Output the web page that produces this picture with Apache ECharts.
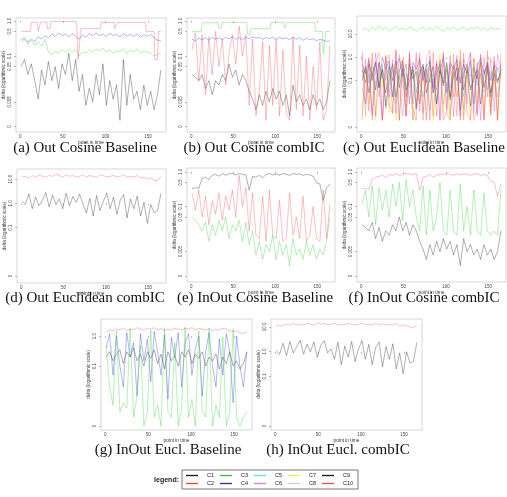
<!DOCTYPE html>
<html>
<head>
<meta charset="utf-8">
<title>delta over time</title>
<script src="https://cdn.jsdelivr.net/npm/echarts@6.0.0/dist/echarts.min.js"></script>
<style>
html, body { margin: 0; padding: 0; background: #fff; }
#chart { width: 507px; height: 497px; }
</style>
</head>
<body>
<div id="chart"></div>
<script>
// time points (every 4th of the 165 steps)
const T = [1,5,9,13,17,21,25,29,33,37,41,45,49,53,57,61,65,69,73,77,81,85,89,93,97,101,105,109,113,117,121,125,129,133,137,141,145,149,153,157,161,165];

const X_TICKS = [0, 50, 100, 150];
const COS_TICKS = [0.001, 0.005, 0.05, 0.1, 0.5, 1];
const COS_LABELS = ['0', '0.005', '0.05', '0.1', '0.5', '1.0'];
const EUC_TICKS = [0.001, 0.1, 1, 10];
const EUC_LABELS = ['0', '0.1', '1.0', '10.0'];

// (a) Out Cosine Baseline
const aBlack = [0.05,0.08,0.03,0.06,0.02,0.006,0.04,0.015,0.07,0.02,0.05,0.012,0.06,0.03,
  0.12,0.02,0.08,0.01,0.03,0.004,0.012,0.005,0.03,0.008,0.06,0.004,0.02,0.006,
  0.015,0.0015,0.08,0.004,0.03,0.006,0.01,0.003,0.015,0.004,0.01,0.003,0.008,0.04];
const aBlue = [0.28,0.33,0.25,0.3,0.26,0.35,0.3,0.38,0.33,0.42,0.36,0.45,0.38,0.42,
  0.35,0.44,0.37,0.3,0.4,0.34,0.43,0.37,0.45,0.38,0.42,0.36,0.44,0.38,
  0.41,0.35,0.43,0.37,0.41,0.36,0.42,0.34,0.4,0.36,0.41,0.33,0.28,0.27];
const aGreen = [0.24,0.3,0.22,0.28,0.2,0.26,0.19,0.3,0.13,0.11,0.14,0.12,0.15,0.13,
  0.16,0.13,0.15,0.1,0.13,0.12,0.15,0.13,0.16,0.14,0.17,0.13,0.15,0.12,
  0.14,0.13,0.16,0.12,0.15,0.13,0.16,0.12,0.14,0.13,0.12,0.1,0.11,0.12];
const aRed = [[1,0.5],[12,0.5],[13,0.9],[20,0.9],[21,0.5],[23,0.5],[24,0.92],[31,0.92],[32,0.6],[35,0.6],
  [36,0.95],[66,0.95],[67,0.3],[68,0.08],[70,0.08],[71,0.6],[94,0.6],[95,0.9],[110,0.9],[111,0.6],
  [113,0.6],[114,0.9],[147,0.9],[148,0.5],[157,0.5],[158,0.08],[161,0.08],[162,0.5],[165,0.5]];

// (b) Out Cosine combIC
const bBlack = [0.03,0.025,0.02,0.03,0.012,0.02,0.008,0.02,0.015,0.03,0.02,0.06,0.025,0.04,
  0.015,0.03,0.02,0.01,0.006,0.003,0.008,0.004,0.01,0.005,0.012,0.006,0.01,0.004,
  0.008,0.002,0.015,0.005,0.008,0.004,0.006,0.003,0.008,0.004,0.006,0.003,0.005,0.02];
const bRed = [0.15,0.45,0.02,0.4,0.008,0.35,0.03,0.5,0.05,0.3,0.015,0.12,0.4,0.06,
  0.7,0.1,0.4,0.004,0.3,0.002,0.01,0.25,0.0015,0.2,0.004,0.3,0.002,0.15,
  0.0025,0.0015,0.35,0.003,0.2,0.002,0.1,0.0015,0.05,0.003,0.25,0.0015,0.003,0.2];
const bBlue = [0.3,0.27,0.32,0.29,0.33,0.28,0.34,0.3,0.33,0.29,0.34,0.31,0.35,0.3,
  0.33,0.29,0.34,0.31,0.35,0.32,0.34,0.3,0.33,0.31,0.35,0.3,0.34,0.31,
  0.33,0.29,0.34,0.3,0.33,0.28,0.32,0.29,0.31,0.27,0.3,0.28,0.26,0.27];
const bGreen = [[1,0.5],[12,0.5],[13,0.88],[32,0.88],[33,0.62],[36,0.62],[37,0.9],[66,0.9],[67,0.42],[70,0.42],
  [71,0.6],[94,0.6],[95,0.9],[110,0.9],[111,0.62],[113,0.62],[114,0.9],[147,0.9],[148,0.5],[156,0.5],
  [157,0.12],[159,0.12],[160,0.5],[165,0.5]];

// (c) Out Euclidean Baseline
const cC1 = [0.3,0.08,0.5,0.2,0.04,0.6,0.15,0.03,0.4,0.1,0.7,0.05,0.3,0.02,
  0.5,0.12,0.25,0.01,0.4,0.08,0.6,0.03,0.2,0.5,0.06,0.3,0.015,0.45,
  0.1,0.7,0.04,0.25,0.008,0.35,0.12,0.6,0.05,0.3,0.02,0.4,0.1,0.2];
const cC2 = [0.002,0.8,0.005,1.5,0.003,0.6,0.002,1.2,0.01,0.004,1.8,0.002,0.5,0.003,
  1.4,0.006,0.002,1.0,0.004,0.3,0.002,1.6,0.003,0.8,0.002,0.005,1.2,0.003,
  0.7,0.002,1.5,0.004,0.002,0.9,0.003,1.3,0.002,0.6,0.004,1.1,0.002,0.5];
const cC3 = [14,18,13,20,15,22,16,19,13,17,21,15,18,14,
  20,16,13,17,19,14,18,15,21,16,13,18,15,20,
  14,17,19,14,18,16,21,15,18,14,19,16,17,15];
const cC4 = [0.5,0.2,0.8,0.1,0.6,0.05,1.0,0.3,0.7,0.02,0.4,0.9,0.15,0.5,
  0.01,0.6,0.3,0.8,0.1,0.4,0.7,0.05,0.5,0.2,1.1,0.03,0.6,0.3,
  0.8,0.08,0.5,0.2,0.7,0.01,0.4,0.9,0.2,0.6,0.1,0.5,0.3,0.4];
const cC5 = [0.15,0.3,0.08,0.4,0.2,0.05,0.3,0.1,0.5,0.02,0.25,0.12,0.35,0.06,
  0.2,0.4,0.03,0.3,0.15,0.5,0.08,0.2,0.01,0.3,0.12,0.4,0.05,0.25,
  0.1,0.35,0.02,0.3,0.15,0.45,0.06,0.2,0.3,0.04,0.25,0.1,0.3,0.15];
const cC6 = [1.2,0.01,0.6,0.003,1.5,0.05,0.002,1.0,0.02,0.8,0.004,1.3,0.1,0.003,
  0.9,0.01,1.6,0.005,0.4,0.002,1.1,0.03,0.7,0.002,1.4,0.006,0.5,0.02,
  1.2,0.003,0.8,0.01,1.5,0.004,0.6,0.002,1.0,0.02,0.9,0.005,1.3,0.3];
const cC7 = [0.003,0.4,0.01,0.9,0.002,0.2,0.05,1.2,0.004,0.6,0.002,0.3,0.9,0.008,
  0.5,0.002,1.0,0.01,0.3,0.003,0.8,0.002,0.15,1.3,0.004,0.5,0.002,0.7,
  0.02,1.1,0.003,0.4,0.002,0.9,0.01,0.6,0.003,1.2,0.005,0.3,0.002,0.8];
const cC8 = [0.05,0.01,0.2,0.004,0.1,0.02,0.5,0.006,0.08,0.3,0.01,0.15,0.003,0.2,
  0.05,0.4,0.008,0.1,0.02,0.3,0.005,0.12,0.04,0.6,0.01,0.09,0.003,0.25,
  0.02,0.15,0.006,0.35,0.05,0.1,0.004,0.2,0.03,0.45,0.008,0.12,0.02,0.3];
const cC9 = [0.1,0.4,0.03,0.2,0.6,0.05,0.3,0.008,0.15,0.5,0.02,0.25,0.7,0.04,
  0.1,0.3,0.006,0.2,0.5,0.03,0.12,0.4,0.01,0.25,0.08,0.6,0.02,0.15,
  0.35,0.005,0.2,0.5,0.04,0.12,0.3,0.01,0.18,0.45,0.03,0.2,0.08,0.3];
const cC10 = [2.0,0.003,1.0,0.002,0.5,1.6,0.002,0.3,1.3,0.004,2.2,0.002,0.8,0.003,
  1.8,0.002,0.01,1.5,0.002,0.9,2.0,0.003,0.6,0.002,1.7,0.004,0.002,1.4,
  0.003,2.1,0.002,0.5,1.6,0.002,0.007,1.2,0.002,1.9,0.003,0.7,0.002,1.5];

// (d) Out Euclidean combIC
const dRed = [12,13,11,14,12,15,13,12,14,13,16,14,12,15,
  13,14,12,13,15,12,14,13,12,15,14,12,13,14,
  12,13,15,12,13,12,14,11,12,10,11,9,8.5,13];
const dBlack = [1.2,0.9,2.5,0.6,1.8,0.8,1.3,2.8,0.7,2.2,0.9,1.5,0.6,2.6,
  0.8,1.9,1.1,2.4,0.9,0.4,1.6,0.3,2.1,0.5,1.2,2.7,0.6,1.8,
  0.35,1.4,2.3,0.25,1.5,0.6,2.0,0.3,1.1,0.15,0.9,0.4,0.5,2.5];

// (e) InOut Cosine Baseline
const eBlack = [0.33,0.35,0.34,0.65,0.7,0.6,0.8,0.85,0.75,0.9,0.8,0.88,0.92,0.82,
  0.9,0.85,0.8,0.3,0.75,0.7,0.8,0.68,0.85,0.9,0.82,0.88,0.8,0.9,
  0.85,0.8,0.9,0.85,0.88,0.8,0.86,0.82,0.75,0.5,0.45,0.15,0.35,0.45];
const eRed = [0.25,0.08,0.3,0.05,0.2,0.03,0.15,0.06,0.25,0.04,0.2,0.08,0.3,0.05,
  0.8,0.1,0.35,0.02,0.25,0.015,0.012,0.2,0.01,0.3,0.015,0.012,0.15,0.01,
  0.012,0.25,0.015,0.05,0.012,0.2,0.01,0.014,0.1,0.012,0.01,0.3,0.012,0.12];
const eGreen = [0.05,0.04,0.03,0.02,0.035,0.01,0.03,0.015,0.04,0.02,0.05,0.012,0.03,0.02,
  0.04,0.01,0.035,0.008,0.02,0.004,0.01,0.003,0.008,0.005,0.015,0.003,0.01,0.004,
  0.008,0.002,0.012,0.004,0.006,0.003,0.01,0.004,0.008,0.003,0.006,0.004,0.01,0.05];

// (f) InOut Cosine combIC
const fRed = [0.33,0.34,0.32,0.6,0.7,0.75,0.8,0.7,0.85,0.8,0.9,0.78,0.85,0.9,
  0.88,0.82,0.9,0.3,0.7,0.75,0.85,0.7,0.8,0.88,0.82,0.9,0.85,0.8,
  0.9,0.82,0.85,0.88,0.8,0.85,0.9,0.8,0.85,0.78,0.55,0.5,0.2,0.45];
const fGreen = [0.12,0.3,0.05,0.4,0.03,0.35,0.08,0.3,0.05,0.45,0.1,0.5,0.04,0.6,
  0.1,0.3,0.05,0.02,0.4,0.015,0.3,0.02,0.05,0.5,0.02,0.015,0.3,0.02,
  0.015,0.45,0.02,0.1,0.015,0.3,0.02,0.015,0.25,0.02,0.015,0.02,0.015,0.3];
const fBlack = [0.03,0.025,0.02,0.035,0.012,0.025,0.01,0.02,0.015,0.03,0.02,0.05,0.02,0.035,
  0.015,0.03,0.02,0.01,0.006,0.003,0.008,0.004,0.01,0.005,0.012,0.006,0.01,0.004,
  0.008,0.002,0.012,0.005,0.008,0.004,0.006,0.003,0.008,0.004,0.006,0.003,0.005,0.02];

// (g) InOut Eucl. Baseline
const gRed = [1.4,1.6,1.5,1.7,1.6,1.8,1.5,1.7,1.6,1.9,1.7,1.6,1.8,1.7,
  1.9,1.6,1.8,1.5,1.7,1.6,1.8,1.7,1.6,1.8,1.7,1.9,1.6,1.8,
  1.7,1.6,1.8,1.5,1.7,1.6,1.8,1.7,1.5,1.4,1.5,1.3,1.2,1.4];
const gBlue = [0.4,1.2,0.05,1.0,0.1,0.02,1.3,0.2,0.6,0.01,1.2,0.15,0.8,0.03,
  1.4,0.3,0.05,1.1,0.008,0.9,0.2,1.3,0.02,0.6,1.2,0.05,0.4,1.0,
  0.01,0.3,1.3,0.1,0.02,0.8,0.05,1.2,0.3,0.006,1.0,0.1,0.02,0.3];
const gGreen = [0.5,0.02,0.005,1.5,0.003,0.006,0.004,1.8,0.002,0.01,0.5,0.001,0.003,1.6,
  0.002,0.005,0.001,1.9,0.003,0.002,0.6,0.001,0.004,2.0,0.002,0.008,0.001,1.5,
  0.003,0.002,1.8,0.001,0.005,0.002,0.9,0.001,0.003,1.7,0.002,0.001,0.002,0.003];
const gBlack = [0.2,0.3,0.15,0.25,0.35,0.12,0.3,0.2,0.4,0.15,0.25,0.1,0.3,0.18,
  0.35,0.12,0.25,0.08,0.3,0.15,0.22,0.1,0.3,0.2,0.35,0.12,0.25,0.18,
  0.3,0.1,0.2,0.15,0.25,0.08,0.2,0.12,0.3,0.1,0.15,0.08,0.12,0.3];

// (h) InOut Eucl. combIC
const hRed = [11,12,11,13,12,14,12,13,12,14,13,12,15,13,
  14,12,13,14,12,13,12,14,13,12,13,14,12,13,
  12,14,12,13,12,13,12,14,11,12,11,10,9.5,12];
const hBlack = [1.1,0.8,2.2,0.7,2.6,0.9,1.6,2.9,0.8,2.0,1.0,2.5,0.6,1.8,
  2.8,0.9,1.3,0.5,2.4,0.3,1.7,0.6,2.6,0.4,1.3,2.8,0.5,2.0,
  0.3,1.5,2.5,0.25,1.6,0.5,2.1,0.2,0.9,0.13,1.0,0.35,0.4,2.4];

// line colours in the plots (semi transparent) and in the legend
const LINE = {
  C1: 'rgba(0,0,0,0.42)', C2: 'rgba(240,50,70,0.42)', C3: 'rgba(30,200,30,0.42)',
  C4: 'rgba(40,40,220,0.45)', C5: 'rgba(0,210,230,0.5)', C6: 'rgba(220,60,220,0.45)',
  C7: 'rgba(235,225,0,0.55)', C8: 'rgba(150,150,150,0.5)', C9: 'rgba(0,0,0,0.4)', C10: 'rgba(250,80,80,0.42)'
};
const SOLID = {
  C1: '#111', C2: '#e8413c', C3: '#3cb83c', C4: '#2b2bb8', C5: '#4fe3e8',
  C6: '#e57be5', C7: '#f2f24a', C8: '#cfcfcf', C9: '#111', C10: '#e8504a'
};

const panels = [
  { grid: { left: 16, top: 18, width: 150, height: 114 }, y: [0.0007, 1.2], ticks: COS_TICKS, labels: COS_LABELS,
    cap: '(a) Out Cosine Baseline', cx: 85, cy: 148,
    lines: [['C1', aBlack], ['C3', aGreen], ['C4', aBlue], ['C2', aRed]] },
  { grid: { left: 187, top: 18, width: 148, height: 114 }, y: [0.0007, 1.2], ticks: COS_TICKS, labels: COS_LABELS,
    cap: '(b) Out Cosine combIC', cx: 254, cy: 148,
    lines: [['C1', bBlack], ['C2', bRed], ['C4', bBlue], ['C3', bGreen]] },
  { grid: { left: 357, top: 16, width: 149, height: 116 }, y: [0.00063, 58], ticks: EUC_TICKS, labels: EUC_LABELS,
    cap: '(c) Out Euclidean Baseline', cx: 424, cy: 148,
    lines: [['C1', cC1], ['C5', cC5], ['C8', cC8], ['C7', cC7], ['C9', cC9], ['C4', cC4], ['C6', cC6], ['C2', cC2], ['C10', cC10], ['C3', cC3]] },
  { grid: { left: 17, top: 169, width: 149, height: 114 }, y: [0.00052, 26], ticks: EUC_TICKS, labels: EUC_LABELS,
    cap: '(d) Out Euclidean combIC', cx: 85, cy: 298,
    lines: [['C1', dBlack], ['C2', dRed]] },
  { grid: { left: 187, top: 168, width: 148, height: 114 }, y: [0.00067, 1.3], ticks: COS_TICKS, labels: COS_LABELS,
    cap: '(e) InOut Cosine Baseline', cx: 255, cy: 298,
    lines: [['C1', eBlack], ['C3', eGreen], ['C2', eRed]] },
  { grid: { left: 357, top: 168, width: 149, height: 114 }, y: [0.00067, 1.3], ticks: COS_TICKS, labels: COS_LABELS,
    cap: '(f) InOut Cosine combIC', cx: 424, cy: 298,
    lines: [['C1', fBlack], ['C3', fGreen], ['C2', fRed]] },
  { grid: { left: 101, top: 319, width: 151, height: 111 }, y: [0.00074, 3.7], ticks: EUC_TICKS, labels: EUC_LABELS,
    cap: '(g) InOut Eucl. Baseline', cx: 168, cy: 450,
    lines: [['C1', gBlack], ['C4', gBlue], ['C3', gGreen], ['C2', gRed]] },
  { grid: { left: 271, top: 319, width: 151, height: 111 }, y: [0.00069, 21], ticks: EUC_TICKS, labels: EUC_LABELS,
    cap: '(h) InOut Eucl. combIC', cx: 338, cy: 450,
    lines: [['C1', hBlack], ['C2', hRed]] }
];

// plain y arrays go with T, step lines already carry their own x
function toPoints(d) {
  return typeof d[0] === 'number' ? d.map((v, i) => [T[i], v]) : d;
}

const grids = [], xAxes = [], yAxes = [], series = [], graphics = [];
panels.forEach((p, i) => {
  grids.push(Object.assign({ show: true, borderColor: '#bdbdbd', borderWidth: 0.6, backgroundColor: 'transparent' }, p.grid));
  xAxes.push({
    type: 'value', gridIndex: i, min: -5, max: 171,
    axisLine: { show: false }, splitLine: { show: false },
    axisTick: { customValues: X_TICKS, length: 2, lineStyle: { color: '#777', width: 0.5 } },
    axisLabel: { customValues: X_TICKS, fontSize: 4.5, color: '#444', margin: 2.5 },
    name: 'point in time', nameLocation: 'middle', nameGap: 6.5,
    nameTextStyle: { fontSize: 4.8, color: '#333' }
  });
  // log scale that carries the lines
  yAxes.push({ type: 'log', logBase: 10, gridIndex: i, position: 'left', min: p.y[0], max: p.y[1], show: false });
  // companion axis in log10 units, only for R-style tick labels
  const lt = p.ticks.map(Math.log10);
  yAxes.push({
    type: 'value', gridIndex: i, position: 'left',
    min: Math.log10(p.y[0]), max: Math.log10(p.y[1]),
    axisLine: { show: false }, splitLine: { show: false },
    axisTick: { customValues: lt, length: 2, lineStyle: { color: '#777', width: 0.5 } },
    axisLabel: {
      customValues: lt, rotate: 90, fontSize: 4.5, color: '#444', margin: 4,
      formatter: v => {
        const k = lt.findIndex(t => Math.abs(t - v) < 1e-6);
        return k < 0 ? '' : p.labels[k];
      }
    },
    name: 'delta (logarithmic scale)', nameLocation: 'middle', nameGap: 10,
    nameTextStyle: { fontSize: 4.6, color: '#333' }
  });
  p.lines.forEach(([name, d]) => {
    series.push({
      name: name, type: 'line', xAxisIndex: i, yAxisIndex: 2 * i,
      data: toPoints(d), showSymbol: false, symbol: 'none', silent: true,
      lineStyle: { width: 0.75, color: LINE[name] }, itemStyle: { color: LINE[name] }
    });
  });
  graphics.push({
    type: 'text', x: p.cx, y: p.cy,
    style: { text: p.cap, font: '15px "Liberation Serif"', fill: '#111',
      align: 'center', textAlign: 'center', verticalAlign: 'middle', textVerticalAlign: 'middle' }
  });
});

graphics.push({
  type: 'text', x: 179, y: 480,
  style: { text: 'legend:', font: 'bold 7px "Liberation Sans"', fill: '#222',
    align: 'right', textAlign: 'right', verticalAlign: 'middle', textVerticalAlign: 'middle' }
});

// legend runs column-wise: C1 C3 C5 C7 C9 / C2 C4 C6 C8 C10
const legendOrder = ['C1', 'C3', 'C5', 'C7', 'C9', 'C2', 'C4', 'C6', 'C8', 'C10'];

const chart = echarts.init(document.getElementById('chart'), null, { renderer: 'canvas' });
chart.setOption({
  animation: false,
  backgroundColor: '#fff',
  textStyle: { fontFamily: 'Liberation Sans' },
  grid: grids,
  xAxis: xAxes,
  yAxis: yAxes,
  series: series,
  graphic: graphics,
  legend: {
    left: 182, top: 470, width: 170,
    padding: [2, 3, 2, 4],
    borderColor: '#555', borderWidth: 0.8,
    icon: 'rect', itemWidth: 12, itemHeight: 1.3, itemGap: 1,
    selectedMode: false,
    textStyle: { fontSize: 5.5, color: '#222', width: 12, lineHeight: 7, padding: [0, 0, 0, 4] },
    data: legendOrder.map(n => ({ name: n, itemStyle: { color: SOLID[n], borderWidth: 0 } }))
  }
});
</script>
</body>
</html>
